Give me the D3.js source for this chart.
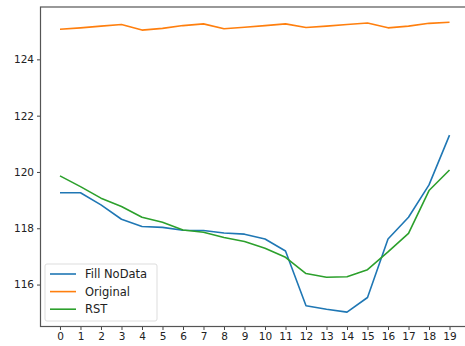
<!DOCTYPE html>
<html>
<head>
<meta charset="utf-8">
<script src="https://cdn.jsdelivr.net/npm/d3@7"></script>
<style>
  body { margin: 0; background: #fff; }
  svg { display: block; font-family: "DejaVu Sans", sans-serif; }
</style>
</head>
<body>
<div id="chart"></div>
<script>
(function () {
    var width = 465,
        height = 346;

    // values
    var steps = d3.range(0, 20);
    var fillNoData = [119.26, 119.26, 118.83, 118.32, 118.06, 118.03, 117.93, 117.92, 117.83, 117.79,
                      117.62, 117.19, 115.25, 115.12, 115.02, 115.54, 117.62, 118.39, 119.54, 121.31];
    var original = [125.07, 125.12, 125.18, 125.24, 125.04, 125.1, 125.2, 125.26, 125.09, 125.14,
                    125.2, 125.26, 125.13, 125.18, 125.24, 125.29, 125.12, 125.18, 125.28, 125.32];
    var rst = [119.86, 119.48, 119.07, 118.77, 118.39, 118.21, 117.94, 117.86, 117.67, 117.53,
               117.29, 116.97, 116.39, 116.26, 116.28, 116.53, 117.16, 117.82, 119.34, 120.07];
    var seriesNames = ["Fill NoData", "Original", "RST"];
    var yTicks = [116, 118, 120, 122, 124];

    var colors = ["#1f77b4", "#ff7f0e", "#2ca02c"];
    var series = [fillNoData, original, rst];

    var left = 40.5, right = 469, top = 7, bottom = 326.5;

    var svg = d3.select("#chart").append("svg")
        .attr("width", width)
        .attr("height", height);

    var x = d3.scaleLinear().domain([-0.95, 19.95]).range([left, right]);
    var y = d3.scaleLinear().domain([114.51, 125.86]).range([bottom, top]);

    var line = d3.line()
        .x(function (d, i) { return x(steps[i]); })
        .y(function (d) { return y(d); });

    svg.append("g")
        .selectAll("path")
        .data(series)
        .enter().append("path")
        .attr("d", line)
        .attr("fill", "none")
        .attr("stroke", function (d, i) { return colors[i]; })
        .attr("stroke-width", 1.6)
        .attr("stroke-linejoin", "round");

    // axes
    var xAxis = svg.append("g")
        .attr("transform", "translate(0," + bottom + ")")
        .call(d3.axisBottom(x).tickValues(steps).tickSize(3.5).tickPadding(3));
    var yAxis = svg.append("g")
        .attr("transform", "translate(" + left + ",0)")
        .call(d3.axisLeft(y).tickValues(yTicks).tickSize(3.5).tickPadding(3));

    [xAxis, yAxis].forEach(function (a) {
        a.select(".domain").remove();
        a.selectAll("line").attr("stroke", "#444");
        a.selectAll("text").attr("fill", "#222").style("font-size", "10.5px")
            .style("font-family", "DejaVu Sans, sans-serif");
    });

    svg.append("rect")
        .attr("x", left)
        .attr("y", top)
        .attr("width", right - left)
        .attr("height", bottom - top)
        .attr("fill", "none")
        .attr("stroke", "#555")
        .attr("stroke-width", 1.2);

    // legend
    var legend = svg.append("g").attr("transform", "translate(45,264)");
    legend.append("rect")
        .attr("width", 112)
        .attr("height", 57)
        .attr("rx", 2)
        .attr("fill", "#fff")
        .attr("fill-opacity", 0.8)
        .attr("stroke", "#ddd");

    var items = legend.selectAll(".item")
        .data(seriesNames)
        .enter().append("g")
        .attr("class", "item")
        .attr("transform", function (d, i) { return "translate(0," + (10 + i * 17.6) + ")"; });
    items.append("line")
        .attr("x1", 5).attr("x2", 31)
        .attr("stroke", function (d, i) { return colors[i]; })
        .attr("stroke-width", 1.6);
    items.append("text")
        .attr("x", 40)
        .attr("dy", "0.35em")
        .style("font-size", "11.5px")
        .attr("fill", "#222")
        .text(function (d) { return d; });
})();
</script>
</body>
</html>
